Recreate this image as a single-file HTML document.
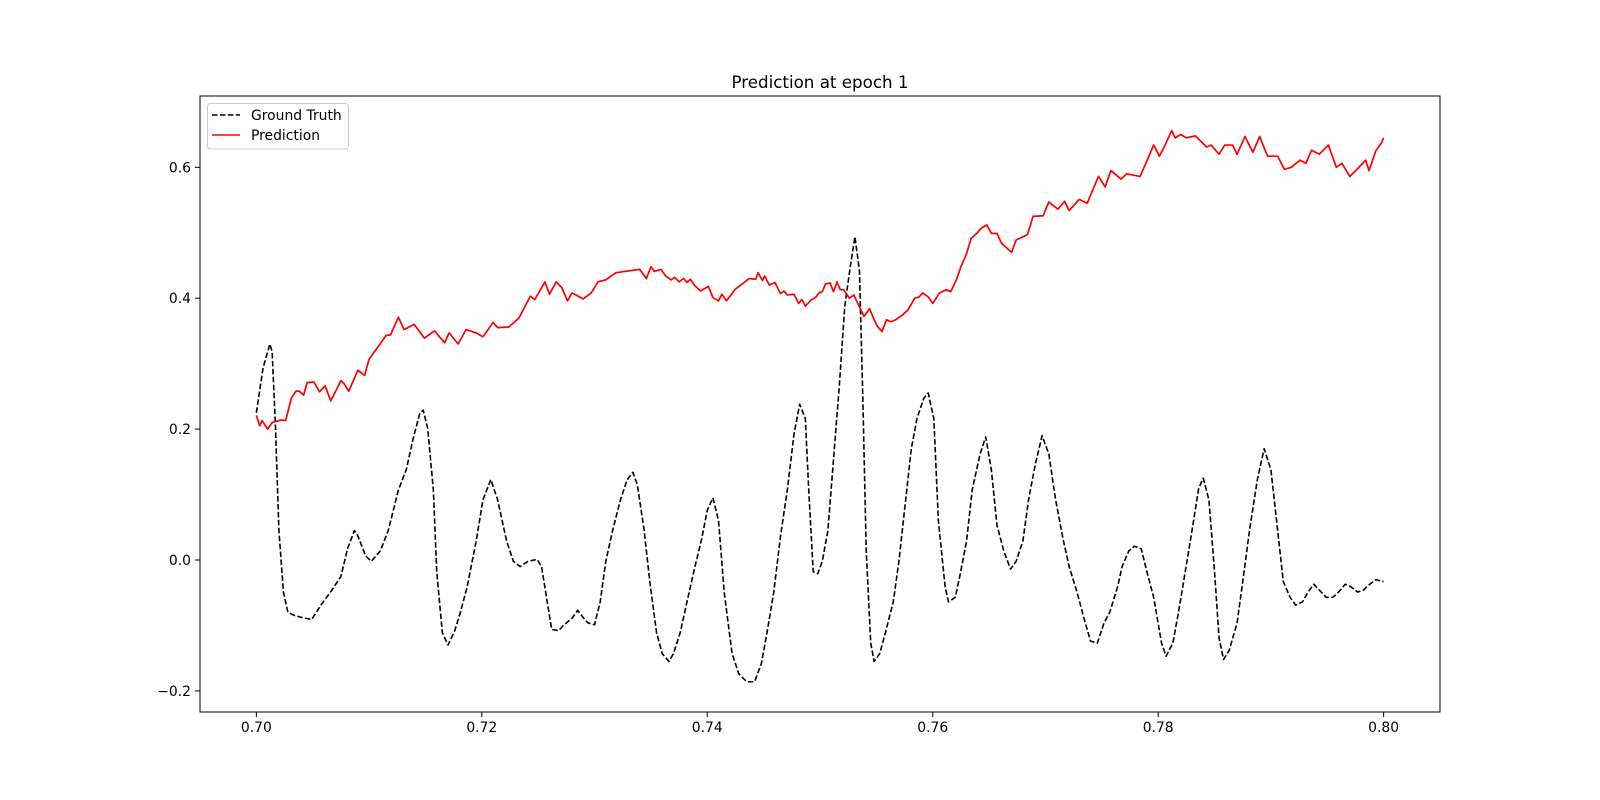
<!DOCTYPE html>
<html><head><meta charset="utf-8">
<style>
html,body{margin:0;padding:0;background:#fff;}
svg{display:block;font-family:"DejaVu Sans","Liberation Sans",sans-serif;}
</style></head>
<body>
<svg id="chart" width="1600" height="800" viewBox="0 0 1600 800">
<rect x="0" y="0" width="1600" height="800" fill="#fff"/>
<text x="820" y="88" font-size="16.7" text-anchor="middle">Prediction at epoch 1</text>
<g id="plot"></g>
<g id="xticks"></g>
<g id="yticks"></g>
<rect x="200" y="96" width="1240" height="616" fill="none" stroke="#000" stroke-width="1"/>
<g>
<rect x="207.5" y="103.5" width="141" height="45.5" rx="3" fill="#fff" fill-opacity="0.8" stroke="#ccc" stroke-width="1"/>
<line x1="212" y1="115" x2="240" y2="115" stroke="#000" stroke-width="1.5" stroke-dasharray="5.55,2.4"/>
<text x="251" y="120" font-size="13.9">Ground Truth</text>
<line x1="212" y1="135" x2="240" y2="135" stroke="#f00" stroke-width="1.5"/>
<text x="251" y="140" font-size="13.9">Prediction</text>
</g>
</svg>
<script>
const xTicks = [0.70,0.72,0.74,0.76,0.78,0.80];
const xTickLabels = ["0.70","0.72","0.74","0.76","0.78","0.80"];
const yTicks = [-0.2,0.0,0.2,0.4,0.6];
const yTickLabels = ["\u22120.2","0.0","0.2","0.4","0.6"];
const gtX = [.7000,.7006,.7012,.7014,.7017,.7020,.7024,.7028,.7034,.7041,.7049,.7058,.7067,.7075,.7081,.7087,.7090,.7097,.7102,.7110,.7117,.7126,.7133,.7139,.7145,.7148,.7152,.7157,.7160,.7165,.7170,.7176,.7181,.7187,.7195,.7201,.7208,.7214,.7222,.7228,.7234,.7241,.7249,.7253,.7258,.7262,.7268,.7273,.7280,.7285,.7290,.7294,.7300,.7305,.7310,.7316,.7323,.7329,.7334,.7338,.7344,.7349,.7355,.7360,.7366,.7370,.7376,.7382,.7388,.7395,.7400,.7405,.7410,.7415,.7422,.7428,.7435,.7442,.7448,.7453,.7459,.7465,.7471,.7477,.7482,.7487,.7490,.7494,.7498,.7502,.7507,.7512,.7517,.7522,.7527,.7531,.7535,.7538,.7541,.7545,.7548,.7553,.7558,.7565,.7570,.7576,.7581,.7586,.7592,.7596,.7601,.7605,.7611,.7614,.7620,.7624,.7630,.7635,.7642,.7647,.7652,.7657,.7663,.7669,.7674,.7680,.7685,.7691,.7697,.7703,.7709,.7716,.7721,.7728,.7734,.7740,.7746,.7752,.7757,.7764,.7768,.7774,.7779,.7785,.7790,.7796,.7803,.7807,.7813,.7818,.7824,.7830,.7836,.7840,.7845,.7850,.7854,.7858,.7863,.7870,.7875,.7881,.7888,.7894,.7900,.7906,.7911,.7917,.7922,.7928,.7933,.7938,.7943,.7949,.7955,.7960,.7966,.7971,.7977,.7982,.7987,.7993,.8000];
const gtY = [.225,.294,.330,.318,.201,.045,-.049,-.080,-.085,-.088,-.091,-.067,-.046,-.025,.018,.045,.037,.006,-.002,.014,.045,.107,.138,.185,.224,.229,.201,.107,-.018,-.111,-.130,-.108,-.080,-.041,.029,.092,.123,.092,.029,-.002,-.010,-.002,.001,-.010,-.064,-.106,-.108,-.099,-.089,-.077,-.088,-.096,-.099,-.064,-.002,.045,.092,.123,.134,.115,.045,-.033,-.111,-.143,-.155,-.143,-.111,-.064,-.018,.032,.076,.095,.060,-.049,-.143,-.174,-.186,-.186,-.158,-.111,-.049,.037,.107,.193,.238,.216,.107,-.018,-.021,-.002,.045,.154,.263,.388,.450,.494,.442,.247,.014,-.127,-.155,-.143,-.111,-.064,-.002,.092,.170,.216,.247,.255,.216,.060,-.041,-.064,-.057,-.025,.029,.107,.162,.188,.138,.053,.014,-.014,-.002,.029,.092,.146,.190,.162,.092,.029,-.010,-.049,-.088,-.124,-.127,-.096,-.080,-.041,-.010,.014,.021,.017,-.018,-.057,-.127,-.147,-.127,-.080,-.018,.045,.110,.125,.092,-.018,-.119,-.152,-.138,-.096,-.033,.045,.123,.170,.138,.045,-.033,-.057,-.069,-.064,-.049,-.037,-.046,-.057,-.057,-.049,-.037,-.041,-.049,-.046,-.038,-.030,-.033];
const predX = [.7000,.7003,.7005,.7010,.7014,.7022,.7026,.7031,.7035,.7038,.7042,.7045,.7051,.7056,.7061,.7066,.7075,.7078,.7082,.7090,.7096,.7100,.7106,.7115,.7119,.7126,.7131,.7140,.7149,.7158,.7167,.7171,.7179,.7186,.7195,.7201,.7210,.7214,.7224,.7233,.7243,.7247,.7256,.7260,.7266,.7271,.7276,.7280,.7290,.7297,.7303,.7310,.7319,
.7340,.7346,.7350,.7353,.7359,.7363,.7368,.7371,.7375,.7379,.7382,.7385,.7389,.7394,.7401,.7405,.7410,.7413,.7417,.7425,.7429,.7432,.7437,.7443,.7445,.7449,.7451,.7455,.7460,.7465,.7468,.7471,.7477,.7481,.7484,.7487,.7492,.7496,.7499,.7502,.7505,.7509,.7512,.7515,.7518,.7521,.7526,.7530,.7535,.7539,.7544,.7548,.7551,.7555,.7559,.7563,.7567,.7573,.7578,.7584,.7588,.7591,.7596,.7600,.7606,.7612,.7616,.7621,.7625,.7630,.7634,.7639,.7643,.7648,.7652,.7657,.7661,
.7670,.7674,.7684,.7689,.7698,.7703,.7711,.7717,.7721,.7730,.7737,.7747,.7753,.7758,.7767,.7772,.7784,.7796,.7801,.7805,.7812,.7815,.7820,.7825,.7833,.7843,.7847,.7854,.7859,.7866,.7870,.7877,.7884,.7890,.7897,.7906,.7912,.7918,.7926,.7931,.7936,.7943,.7951,.7958,.7963,.7970,.7977,.7984,.7987,.7993,.7998,.8000];
const predY = [.221,.205,.213,.200,.210,.214,.213,.247,.258,.258,.252,.271,.272,.257,.266,.243,.274,.269,.258,.290,.282,.307,.321,.343,.344,.371,.352,.360,.339,.350,.332,.347,.330,.352,.347,.341,.363,.355,.356,.370,.403,.398,.425,.406,.425,.416,.396,.408,.399,.408,.425,.428,.439,
.444,.430,.448,.441,.444,.434,.428,.432,.425,.430,.424,.429,.419,.411,.418,.401,.396,.406,.396,.414,.419,.423,.430,.429,.439,.427,.434,.420,.424,.407,.411,.405,.406,.392,.398,.388,.397,.401,.408,.410,.422,.423,.410,.425,.413,.413,.400,.405,.387,.372,.384,.367,.357,.349,.367,.364,.367,.374,.382,.400,.402,.408,.402,.392,.408,.413,.410,.428,.448,.468,.491,.499,.507,.512,.499,.499,.484,
.470,.489,.497,.525,.526,.547,.536,.548,.534,.551,.545,.586,.570,.595,.582,.590,.586,.634,.617,.630,.656,.645,.650,.645,.648,.631,.634,.620,.634,.634,.620,.647,.623,.647,.617,.617,.597,.600,.611,.606,.626,.620,.634,.600,.606,.586,.598,.611,.595,.625,.637,.645];

const NS = "http://www.w3.org/2000/svg";
const X0 = 0.695, X1 = 0.805, PX0 = 200, PX1 = 1440;
const PYZERO = 560, PYPER = 654.5;
function sx(v){ return PX0 + (v - X0) / (X1 - X0) * (PX1 - PX0); }
function sy(v){ return PYZERO - v * PYPER; }

const plot = document.getElementById('plot');
function pathFrom(xs, ys){
  let d = '';
  for (let i = 0; i < xs.length; i++) d += (i ? 'L' : 'M') + sx(xs[i]).toFixed(2) + ',' + sy(ys[i]).toFixed(2);
  return d;
}
const gt = document.createElementNS(NS, 'path');
gt.setAttribute('d', pathFrom(gtX, gtY));
gt.setAttribute('fill', 'none');
gt.setAttribute('stroke', '#000');
gt.setAttribute('stroke-width', '1.6');
gt.setAttribute('stroke-dasharray', '5.55,2.4');
gt.setAttribute('stroke-linejoin', 'round');


plot.appendChild(gt);

const pr = document.createElementNS(NS, 'path');
pr.setAttribute('d', pathFrom(predX, predY));
pr.setAttribute('fill', 'none');
pr.setAttribute('stroke', '#f00');
pr.setAttribute('stroke-width', '1.7');
pr.setAttribute('stroke-linejoin', 'round');


plot.appendChild(pr);

const xg = document.getElementById('xticks');
xTicks.forEach((t, i) => {
  const x = sx(t);
  const l = document.createElementNS(NS, 'line');
  l.setAttribute('x1', x); l.setAttribute('x2', x);
  l.setAttribute('y1', 712); l.setAttribute('y2', 717);
  l.setAttribute('stroke', '#000');
  
  
  xg.appendChild(l);
  const tx = document.createElementNS(NS, 'text');
  tx.setAttribute('x', x); tx.setAttribute('y', 732);
  tx.setAttribute('font-size', '13.9');
  tx.setAttribute('text-anchor', 'middle');
  tx.textContent = xTickLabels[i];
  
  
  xg.appendChild(tx);
});
const yg = document.getElementById('yticks');
yTicks.forEach((t, i) => {
  const y = sy(t);
  const l = document.createElementNS(NS, 'line');
  l.setAttribute('x1', 195); l.setAttribute('x2', 200);
  l.setAttribute('y1', y); l.setAttribute('y2', y);
  l.setAttribute('stroke', '#000');
  
  
  yg.appendChild(l);
  const tx = document.createElementNS(NS, 'text');
  tx.setAttribute('x', 191); tx.setAttribute('y', y + 5);
  tx.setAttribute('font-size', '13.9');
  tx.setAttribute('text-anchor', 'end');
  tx.textContent = yTickLabels[i];
  
  
  yg.appendChild(tx);
});
</script>
</body></html>
